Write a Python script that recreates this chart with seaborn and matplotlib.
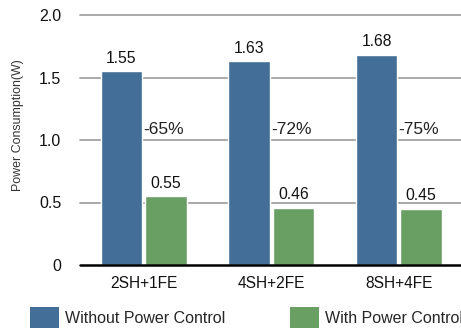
import matplotlib
matplotlib.use("Agg")
import matplotlib.pyplot as plt
from matplotlib.patches import Patch
import seaborn as sns
import pandas as pd

configs = ["2SH+1FE", "4SH+2FE", "8SH+4FE"]
series = ["Without Power Control", "With Power Control"]
without_pc = [1.55, 1.63, 1.68]
with_pc = [0.55, 0.46, 0.45]
reductions = ["-65%", "-72%", "-75%"]
yticks = [0, 0.5, 1.0, 1.5, 2.0]
ytick_labels = ["0", "0.5", "1.0", "1.5", "2.0"]

colors = ["#436e97", "#6a9f64"]

df = pd.DataFrame({
    "config": configs * 2,
    "series": [series[0]] * 3 + [series[1]] * 3,
    "value": without_pc + with_pc,
})

sns.set_style("white")
plt.rcParams["font.family"] = ["Liberation Sans", "DejaVu Sans"]

fig = plt.figure(figsize=(4.61, 3.30), dpi=100)
ax = fig.add_axes([80 / 461, 1 - 265 / 330, 382.5 / 461, 250 / 330])

sns.barplot(data=df, x="config", y="value", hue="series", order=configs,
            hue_order=series, palette=colors, width=0.70, gap=0.07,
            saturation=1, ax=ax, legend=False, zorder=3)

ax.set_xlim(-0.5, 2.5)
ax.set_ylim(0, 2.0)
ax.set_yticks(yticks)
ax.set_yticklabels(ytick_labels)
for y in yticks[1:]:
    ax.axhline(y, color="#a3a3a3", lw=1.3, zorder=1, clip_on=False)
ax.axhline(0, color="black", lw=1.8, zorder=4, clip_on=False)

for s in ax.spines.values():
    s.set_visible(False)
ax.tick_params(axis="y", length=0, pad=13.5, labelsize=11.5, colors="#111111")
ax.tick_params(axis="x", length=0, pad=8, labelsize=11.2, colors="#111111")
ax.set_xlabel("")
ax.set_ylabel("Power Consumption(W)", fontsize=8.9, color="#333333")
ax.yaxis.set_label_coords(-0.146, 0.56)

# value labels above bars
for cont in ax.containers:
    for bar in cont:
        h = bar.get_height()
        ax.annotate(f"{h:.2f}", (bar.get_x() + bar.get_width() / 2, h),
                    xytext=(0, 4), textcoords="offset points",
                    ha="center", va="bottom", fontsize=11.3, color="#111111")

# reduction labels next to the tall bars
for i, bar in enumerate(ax.containers[0]):
    x = bar.get_x() + bar.get_width() + 0.01
    ax.text(x, 1.08, reductions[i], ha="left", va="center",
            fontsize=12.5, color="#222222")

handles = [Patch(facecolor=c, edgecolor="none") for c in colors]
fig.legend(handles, series, loc="lower left", bbox_to_anchor=(30 / 461, 2 / 330),
           ncol=2, frameon=False, fontsize=11.5, handlelength=1.8,
           handleheight=1.6, handletextpad=0.375, columnspacing=4.06,
           borderpad=0, borderaxespad=0)

fig.savefig("out.png", dpi=100)
